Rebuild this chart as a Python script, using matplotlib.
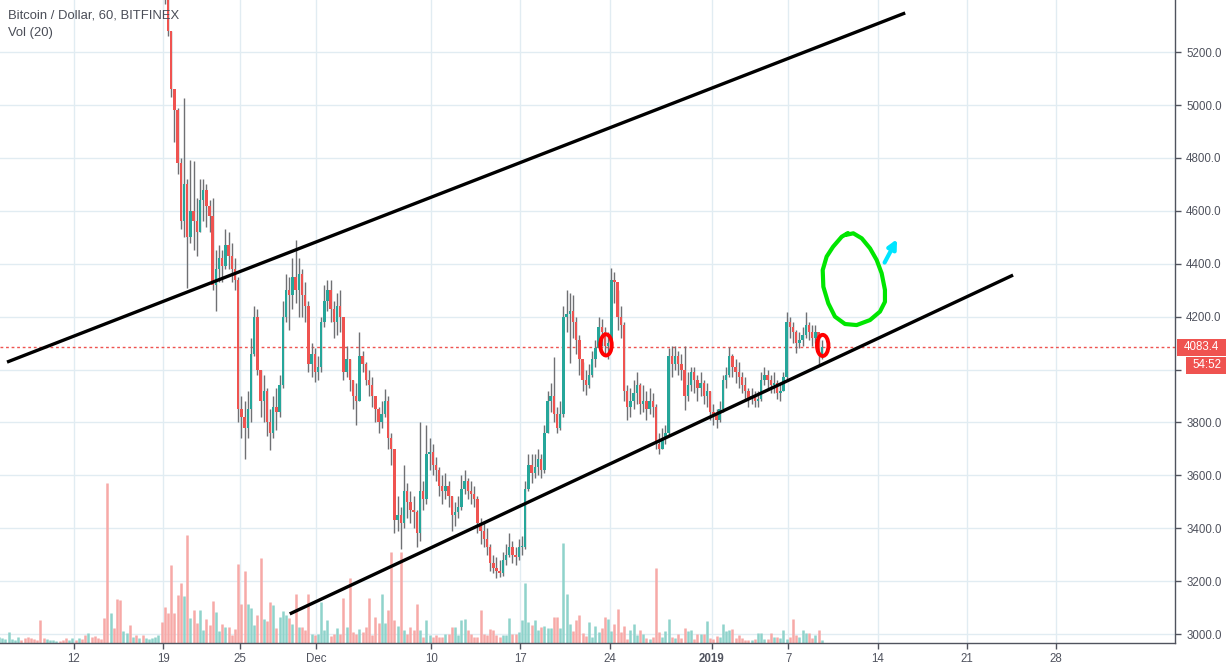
import matplotlib as mpl
mpl.use('Agg')
import matplotlib.pyplot as plt
import pandas as pd
from matplotlib import transforms
from matplotlib.patches import Ellipse, FancyArrowPatch, Rectangle

# BTC/USD Bitfinex, 6-hour bins starting 2018-11-06 00:00 (one line = one day)
close = [
    6420, 6440, 6450, 6460,  # Nov 6
    6500, 6520, 6540, 6530,
    6510, 6480, 6460, 6420,
    6410, 6400, 6380, 6390,
    6400, 6410, 6420, 6410,
    6400, 6390, 6410, 6420,
    6400, 6410, 6390, 6380,  # Nov 12
    6390, 6360, 6350, 6340,
    6330, 6300, 5560, 5650,
    5620, 5580, 5540, 5600,
    5620, 5600, 5610, 5590,
    5600, 5580, 5590, 5600,
    5610, 5630, 5650, 5640,
    5420, 5280, 5060, 4980,  # Nov 19
    4780, 4560, 4700, 4500,
    4600, 4560, 4520, 4640,
    4680, 4620, 4580, 4320,
    4380, 4420, 4390, 4470,
    4430, 4380, 4340, 3850,
    3820, 3780, 3850, 4060,  # Nov 25
    4200, 4000, 3880, 3920,
    3800, 3760, 3860, 3840,
    3940, 4200, 4300, 4280,
    4350, 4300, 4360, 4280,
    4240, 4020, 4060, 3990,
    4010, 4180, 4260, 4300,  # Dec 1
    4230, 4180, 4240, 4200,
    3990, 4040, 3960, 3900,
    3880, 4050, 4020, 3960,
    3940, 3900, 3850, 3800,
    3830, 3880, 3740, 3700,
    3430, 3450, 3420, 3540,
    3500, 3470, 3460, 3380,
    3540, 3510, 3680, 3690,
    3640, 3620, 3560, 3540,  # Dec 10
    3560, 3520, 3450, 3460,
    3480, 3550, 3580, 3540,
    3530, 3510, 3420, 3390,
    3360, 3330, 3270, 3250,
    3240, 3230, 3280, 3300,
    3330, 3300, 3290, 3330,
    3330, 3550, 3640, 3610,  # Dec 17
    3630, 3660, 3620, 3760,
    3880, 3900, 3830, 3780,
    3830, 4200, 4210, 4220,
    4180, 4110, 4040, 3960,
    3940, 3980, 4040, 4080,
    4160, 4140, 4090, 4100,
    4340, 4330, 4200, 4170,  # Dec 24
    3920, 3860, 3880, 3910,
    3940, 3870, 3880, 3850,
    3880, 3860, 3720, 3700,
    3740, 3760, 4050, 4020,
    4050, 4020, 4000, 3900,
    3940, 3990, 3960, 3930,
    3950, 3900, 3920, 3840,
    3830, 3810, 3850, 3960,  # Jan 1
    3980, 4050, 4010, 3990,
    3970, 3940, 3920, 3890,
    3900, 3880, 3890, 3960,
    3980, 3960, 3940, 3950,
    3910, 3920, 3970, 4180,
    4160, 4140, 4100, 4110,  # Jan 7
    4130, 4170, 4140, 4120,
    4140, 4060, 4083.4,
]
high = [
    6450, 6460, 6470, 6480,
    6520, 6540, 6560, 6550,
    6540, 6520, 6490, 6470,
    6440, 6430, 6410, 6410,
    6420, 6430, 6440, 6430,
    6420, 6410, 6430, 6440,
    6430, 6430, 6420, 6400,
    6410, 6400, 6380, 6370,
    6360, 6340, 6310, 5700,
    5680, 5640, 5600, 5620,
    5650, 5640, 5630, 5620,
    5620, 5610, 5610, 5620,
    5630, 5650, 5670, 5670,
    5650, 5420, 5280, 5060,  # Nov 19
    4990, 4800, 5026, 4720,
    4792, 4790, 4650, 4720,
    4720, 4700, 4640, 4650,
    4450, 4470, 4450, 4530,
    4520, 4480, 4420, 4350,
    3900, 3880, 3920, 4120,  # Nov 25
    4240, 4230, 4000, 3980,
    3930, 3850, 3900, 3930,
    3980, 4260, 4360, 4350,
    4420, 4490, 4420, 4380,
    4330, 4260, 4100, 4080,
    4050, 4200, 4320, 4340,  # Dec 1
    4340, 4260, 4290, 4300,
    4200, 4090, 4040, 3960,
    3950, 4140, 4070, 4030,
    4000, 3970, 3900, 3860,
    3880, 3925, 3900, 3760,
    3700, 3520, 3480, 3640,
    3570, 3540, 3520, 3470,
    3800, 3580, 3790, 3740,
    3720, 3670, 3630, 3600,  # Dec 10
    3610, 3580, 3520, 3500,
    3520, 3600, 3620, 3590,
    3580, 3560, 3520, 3440,
    3420, 3400, 3340, 3300,
    3290, 3280, 3310, 3340,
    3380, 3350, 3330, 3360,
    3370, 3580, 3680, 3680,  # Dec 17
    3680, 3700, 3680, 3790,
    3920, 3950, 4047, 3860,
    3880, 4240, 4300, 4290,
    4280, 4200, 4130, 4030,
    4000, 4020, 4070, 4110,
    4200, 4190, 4160, 4140,
    4384, 4370, 4300, 4240,  # Dec 24
    4180, 3940, 3930, 3960,
    3990, 3950, 3940, 3920,
    3930, 3910, 3870, 3760,
    3780, 3790, 4080, 4090,
    4090, 4070, 4060, 4090,
    3990, 4010, 4010, 3980,
    3990, 3960, 3950, 3920,
    3870, 3850, 3880, 3980,  # Jan 1
    4010, 4085, 4060, 4040,
    4030, 3990, 3970, 3930,
    3930, 3920, 3920, 3990,
    4010, 4000, 3980, 3990,
    3960, 3950, 3990, 4218,
    4200, 4180, 4150, 4140,  # Jan 7
    4160, 4218, 4180, 4170,
    4170, 4130, 4110,
]
low = [
    6390, 6410, 6420, 6430,
    6450, 6490, 6510, 6510,
    6490, 6460, 6440, 6400,
    6390, 6380, 6360, 6370,
    6380, 6390, 6400, 6390,
    6380, 6370, 6380, 6400,
    6380, 6390, 6370, 6360,
    6370, 6340, 6330, 6320,
    6310, 6280, 5500, 5520,
    5580, 5540, 5500, 5520,
    5580, 5580, 5590, 5570,
    5570, 5560, 5570, 5580,
    5590, 5600, 5620, 5620,
    5380, 5260, 5030, 4860,  # Nov 19
    4740, 4530, 4500, 4310,
    4480, 4450, 4430, 4520,
    4560, 4540, 4520, 4300,
    4220, 4330, 4330, 4380,
    4380, 4330, 4300, 3800,
    3740, 3660, 3740, 3800,  # Nov 25
    4050, 3980, 3820, 3800,
    3750, 3696, 3740, 3770,
    3820, 3930, 4180, 4150,
    4230, 4250, 4200, 4200,
    4180, 3990, 3970, 3953,
    3960, 3990, 4160, 4220,  # Dec 1
    4180, 4120, 4130, 4140,
    3960, 3970, 3920, 3850,
    3790, 3880, 3990, 3940,
    3900, 3860, 3800, 3760,
    3780, 3820, 3700, 3640,
    3380, 3390, 3320, 3400,
    3440, 3420, 3400, 3330,
    3350, 3470, 3490, 3620,
    3600, 3580, 3520, 3490,  # Dec 10
    3510, 3480, 3390, 3410,
    3440, 3470, 3530, 3510,
    3490, 3480, 3380, 3340,
    3330, 3300, 3240, 3230,
    3210, 3215, 3220, 3260,
    3290, 3270, 3260, 3280,
    3300, 3320, 3540, 3570,  # Dec 17
    3590, 3600, 3590, 3610,
    3760, 3840, 3800, 3760,
    3770, 3820, 4140, 4025,
    4120, 4060, 3980, 3920,
    3904, 3930, 3970, 4010,
    4080, 4090, 4050, 4040,
    4080, 4250, 4150, 4120,  # Dec 24
    3880, 3810, 3820, 3850,
    3870, 3830, 3840, 3810,
    3830, 3820, 3700, 3680,
    3700, 3720, 3750, 3970,
    4000, 3980, 3960, 3847,
    3880, 3920, 3910, 3880,
    3900, 3870, 3860, 3810,
    3790, 3779, 3800, 3840,  # Jan 1
    3930, 3970, 3970, 3950,
    3930, 3910, 3880, 3860,
    3870, 3860, 3858, 3880,
    3940, 3930, 3910, 3910,
    3890, 3880, 3920, 3960,
    4120, 4100, 4062, 4080,  # Jan 7
    4090, 4120, 4110, 4090,
    4100, 4017, 4040,
]
volume = [
    600, 500, 400, 1100,  # Nov 6
    400, 300, 600, 300,
    500, 600, 500, 400,
    300, 2300, 500, 400,
    300, 300, 200, 200,
    300, 500, 300, 500,
    300, 500, 400, 800,  # Nov 12
    1000, 600, 700, 500,
    400, 2500, 16000, 3000,
    1500, 4400, 4300, 1200,
    1000, 1800, 600, 800,
    500, 800, 500, 400,
    500, 600, 800, 2100,
    3600, 3000, 7800, 3000,  # Nov 19
    4800, 6000, 4700, 10800,
    2500, 3300, 2000, 3300,
    1300, 2400, 1800, 4200,
    3100, 1200, 1900, 1600,
    1600, 800, 1400, 7900,
    3900, 7200, 3900, 3500,  # Nov 25
    1800, 2800, 8500, 2400,
    2200, 4100, 3800, 1500,
    2600, 3200, 2800, 2500,
    1900, 4900, 1600, 1600,
    1300, 4900, 900, 800,
    900, 4100, 1300, 2300,  # Dec 1
    700, 900, 1500, 900,
    4500, 1600, 6500, 1100,
    900, 1400, 1100, 1600,
    4500, 800, 2600, 2000,
    4900, 2000, 3300, 9100,
    2300, 1700, 9100, 1300,
    900, 1600, 1300, 3900,
    1300, 600, 2300, 800,
    600, 800, 600, 600,  # Dec 10
    900, 900, 1600, 1600,
    800, 2300, 2400, 1300,
    900, 600, 600, 3300,
    900, 800, 1400, 1300,
    800, 600, 800, 800,
    2500, 900, 900, 1100,
    2300, 6000, 2100, 1800,  # Dec 17
    2300, 1300, 1600, 1700,
    1500, 1500, 2600, 2600,
    1500, 10000, 4900, 1900,
    1200, 2300, 2800, 1000,
    700, 2100, 600, 1700,
    1100, 1500, 2600, 2400,
    1200, 1900, 3400, 1100,  # Dec 24
    1700, 400, 1300, 1900,
    800, 1300, 900, 500,
    400, 600, 7500, 1100,
    600, 1200, 2400, 600,
    500, 900, 500, 1500,
    1200, 1300, 400, 900,
    900, 900, 2200, 500,
    400, 700, 600, 1900,  # Jan 1
    1200, 1300, 1400, 500,
    800, 500, 300, 300,
    300, 400, 1000, 1000,
    400, 400, 1000, 600,
    600, 500, 1300, 400,
    600, 2400, 800, 600,  # Jan 7
    1300, 1000, 1000, 500,
    800, 1300, 300,
]
first_open = 6400

y_ticks = [3000, 3200, 3400, 3600, 3800, 4000, 4200, 4400, 4600, 4800, 5000, 5200]
x_tick_dates = ['2018-11-12', '2018-11-19', '2018-11-25', '2018-12-01', '2018-12-10',
                '2018-12-17', '2018-12-24', '2019-01-01', '2019-01-07', '2019-01-14',
                '2019-01-21', '2019-01-28']
x_tick_labels = ['12', '19', '25', 'Dec', '10', '17', '24', '2019', '7', '14', '21', '28']

# hand drawn channel and notes (time, price)
upper_line_t = ['2018-11-06 18:00', '2019-01-16 04:00']
upper_line_p = [4028, 5348]
lower_line_t = ['2018-11-28 22:00', '2019-01-24 15:00']
lower_line_p = [3076, 4357]
loop_days = [60.68, 60.19, 59.51, 59.01, 58.70, 58.75, 59.14, 59.66, 60.45, 61.36,
             62.41, 63.19, 63.58, 63.58, 63.32, 62.93, 62.41, 61.76, 61.10, 60.53]
loop_price = [4516, 4502, 4464, 4427, 4376, 4313, 4250, 4200, 4172, 4168,
              4187, 4219, 4256, 4301, 4364, 4414, 4458, 4496, 4515, 4509]
arrow_days = [63.45, 64.63]
arrow_price = [4395, 4502]
circle_days = [41.71, 58.70]
circle_price = [4093, 4091]

t0 = pd.Timestamp('2018-11-12')
day = pd.Timedelta(days=1)


def to_x(stamps):
    return [(pd.Timestamp(s) - t0) / day for s in stamps]


times = pd.date_range('2018-11-06', periods=len(close), freq='6h')
xs = [(t - t0) / day + 0.125 for t in times]
opens = [first_open] + close[:-1]
up = [c >= o for o, c in zip(opens, close)]

TEAL = '#26a69a'
RED = '#ef5350'
WICK = '#6f7073'
TXT = '#50535e'

mpl.rcParams.update({'font.family': ['Liberation Sans', 'DejaVu Sans']})

fig = plt.figure(figsize=(12.26, 6.69), dpi=100)
ax = fig.add_axes([0, 26 / 669, 1175 / 1226, 643 / 669])
ax.set_xlim(-5.80, 86.32)
ax.set_ylim(2966, 5397)

# volume at the bottom, scaled to the pane height
vtrans = transforms.blended_transform_factory(ax.transData, ax.transAxes)
vscale = 64300.0
ax.vlines(xs, 0, [v / vscale for v in volume], transform=vtrans,
          colors=['#8fd3cb' if u else '#f7a9a7' for u in up], linewidth=1.8, zorder=1)

# candles
ax.vlines(xs, low, high, colors=WICK, linewidth=1.0, zorder=3)
ax.bar(xs, [max(abs(c - o), 4) for o, c in zip(opens, close)], bottom=[min(o, c) for o, c in zip(opens, close)],
       width=0.19, color=[TEAL if u else RED for u in up], linewidth=0, zorder=4)

# last price line
ax.axhline(close[-1], color=RED, lw=1, ls=(0, (2, 2)), zorder=2)

# channel lines
ax.plot(to_x(upper_line_t), upper_line_p, color='black', lw=2.4, zorder=6, solid_capstyle='butt')
ax.plot(to_x(lower_line_t), lower_line_p, color='black', lw=2.4, zorder=6, solid_capstyle='butt')

# drawings
ax.plot(loop_days, loop_price, color='#00e600', lw=3, zorder=7, solid_capstyle='round')
ax.add_patch(FancyArrowPatch((arrow_days[0], arrow_price[0]), (arrow_days[1], arrow_price[1]),
                             arrowstyle='-|>', mutation_scale=13, lw=3, color='#00e5ff', zorder=7))
for cd, cp in zip(circle_days, circle_price):
    ax.add_patch(Ellipse((cd, cp), 0.9, 80, fill=False, ec='#ff0000', lw=2.8, zorder=7))

# axes styling
ax.set_xticks(to_x(x_tick_dates))
ax.set_xticklabels(x_tick_labels)
ax.set_yticks(y_ticks)
ax.set_yticklabels(['%.1f' % v for v in y_ticks])
ax.yaxis.tick_right()
ax.grid(True, color='#e1ecf2', lw=1)
ax.set_axisbelow(True)
for s in ['top', 'left']:
    ax.spines[s].set_visible(False)
for s in ['right', 'bottom']:
    ax.spines[s].set_color(TXT)
    ax.spines[s].set_linewidth(1)
ax.tick_params(axis='both', colors=TXT, labelcolor=TXT, length=4, width=1, labelsize=8.3)
ax.tick_params(axis='y', pad=4)
ax.tick_params(axis='x', pad=3)
for lbl in ax.get_xticklabels():
    if lbl.get_text() == '2019':
        lbl.set_fontweight('bold')
# the 4000.0 label sits under the countdown box
for lbl in ax.get_yticklabels():
    if lbl.get_text() == '4000.0':
        lbl.set_visible(False)

fig.text(8 / 1226, 1 - 16 / 669, 'Bitcoin / Dollar, 60, BITFINEX', color='#4a4d57',
         fontsize=9.4, va='center', ha='left')
fig.text(8 / 1226, 1 - 33 / 669, 'Vol (20)', color='#4a4d57', fontsize=9.4, va='center', ha='left')

# price scale labels for last price and countdown
ptrans = transforms.blended_transform_factory(fig.transFigure, ax.transData)
fig.add_artist(Rectangle((1177 / 1226, close[-1] - 32), 1, 64, transform=ptrans,
                         fc=RED, ec='none', zorder=5))
fig.text(1184 / 1226, close[-1], '4083.4', transform=ptrans, color='white',
         fontsize=8.3, va='center', ha='left', zorder=6)
fig.add_artist(Rectangle((1186 / 1226, close[-1] - 100), 1, 64, transform=ptrans,
                         fc=RED, ec='none', zorder=5))
fig.text(1192 / 1226, close[-1] - 68, '54:52', transform=ptrans, color='white',
         fontsize=8.3, va='center', ha='left', zorder=6)

fig.savefig('out.png', dpi=100)
